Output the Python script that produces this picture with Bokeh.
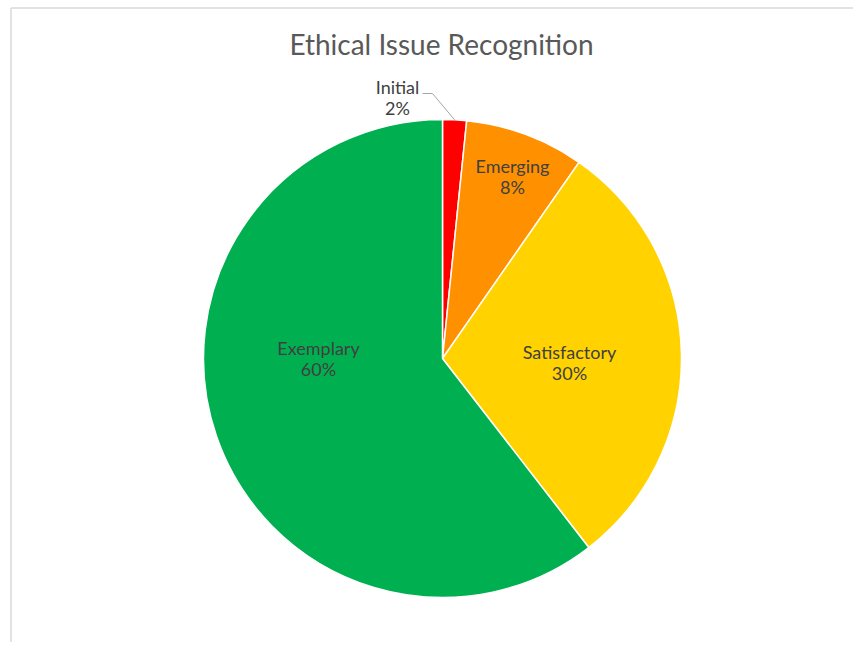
import math
from bokeh.plotting import figure
from bokeh.models import Range1d, Label
from bokeh.core.properties import value
from bokeh.embed import file_html
from bokeh.resources import INLINE

# ---- data ----
categories = ["Initial", "Emerging", "Satisfactory", "Exemplary"]
counts = [2, 10, 37, 75]
colors = ["#FF0000", "#FF9000", "#FFD200", "#00B050"]
title_text = "Ethical Issue Recognition"

# ---- layout (screen px) ----
W, H = 853, 642
def X(sx):
    return sx
def Y(sy):
    return H - sy

CX, CY, R = 442, 358, 239
# label centres (screen px) for name / percent pairs
label_centres = {"Initial": (397, 97), "Emerging": (512, 176),
                 "Satisfactory": (569, 362), "Exemplary": (318, 358)}
FONT = "Lato"
LABEL_SIZE = "18px"

p = figure(width=W, height=H, x_range=Range1d(0, W), y_range=Range1d(0, H),
           output_backend="svg", toolbar_location=None, min_border=0,
           outline_line_color=None, background_fill_color="white",
           border_fill_color="white")
p.axis.visible = False
p.grid.visible = False

# chart-area frame (left/top edges visible)
p.line(x=[X(10.5), X(10.5)], y=[Y(660), Y(7.5)], line_color="#d9d9d9", line_width=1.5)
p.line(x=[X(10.5), X(870)], y=[Y(7.5), Y(7.5)], line_color="#d9d9d9", line_width=1.5)

total = sum(counts)
cum = 0.0
starts, ends, mids = [], [], []
for c in counts:
    f0 = cum / total
    cum += c
    f1 = cum / total
    starts.append(math.pi / 2 - 2 * math.pi * f0)
    ends.append(math.pi / 2 - 2 * math.pi * f1)
    mids.append((f0 + f1) / 2)

p.wedge(x=[X(CX)] * len(counts), y=[Y(CY)] * len(counts), radius=R,
        start_angle=starts, end_angle=ends, direction="clock",
        fill_color=colors, line_color="white", line_width=1.5)

# labels
for cat, c, m in zip(categories, counts, mids):
    lx, ly = label_centres[cat]
    pct = f"{round(c / total * 100)}%"
    p.text(x=[X(lx)], y=[Y(ly - 10.5)], text=[cat], text_align="center",
           text_baseline="middle", text_font=value(FONT), text_font_size=LABEL_SIZE,
           text_color="#404040")
    p.text(x=[X(lx)], y=[Y(ly + 10.5)], text=[pct], text_align="center",
           text_baseline="middle", text_font=value(FONT), text_font_size=LABEL_SIZE,
           text_color="#404040")

# leader line for the small slice
m0 = mids[0] * 2 * math.pi
ex = CX + R * math.sin(m0)
ey = CY - R * math.cos(m0)
lx, ly = label_centres["Initial"]
p.line(x=[X(lx + 25), X(lx + 35), X(ex)], y=[Y(ly - 4), Y(ly - 4), Y(ey)],
       line_color="#a6a6a6", line_width=1)

title = Label(x=X(441), y=Y(43), text=title_text, text_align="center",
              text_baseline="middle", text_font=FONT, text_font_size="28px",
              text_color="#595959")
p.add_layout(title)

open("out.html", "w").write(file_html(p, INLINE))
